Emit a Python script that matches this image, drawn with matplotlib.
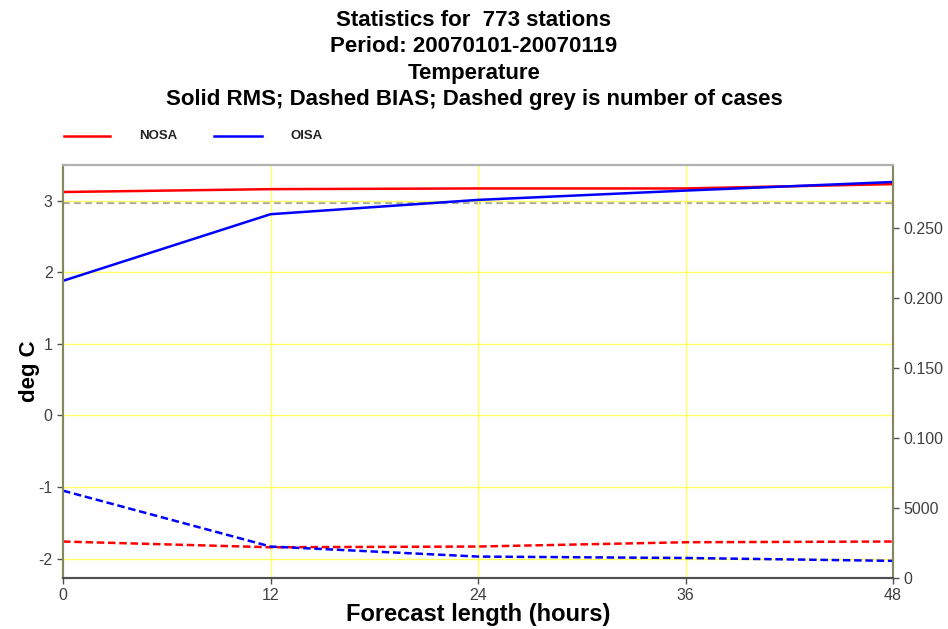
import numpy as np
import matplotlib.pyplot as plt

plt.rcParams['font.family'] = ['Liberation Sans', 'DejaVu Sans']

hours = [0, 12, 24, 36, 48]
nosa_rms = [3.12, 3.16, 3.17, 3.17, 3.23]
oisa_rms = [1.88, 2.81, 3.01, 3.14, 3.26]
nosa_bias = [-1.76, -1.84, -1.83, -1.77, -1.76]
oisa_bias = [-1.05, -1.83, -1.97, -1.99, -2.03]
ncases = [26800, 26800, 26800, 26800, 26800]

yticks = [-2, -1, 0, 1, 2, 3]
rticks = [0, 5000, 10000, 15000, 20000, 25000]
rlabels = ['0', '5000', '0.100', '0.150', '0.200', '0.250']

title_lines = ['Statistics for  773 stations',
               'Period: 20070101-20070119',
               'Temperature',
               'Solid RMS; Dashed BIAS; Dashed grey is number of cases']

fig = plt.figure(figsize=(9.48, 6.29), dpi=100)
ax = fig.add_axes([0.0665, 0.081, 0.8755, 0.657])
ax2 = ax.twinx()

ax2.plot(hours, ncases, color='#a8a8a0', ls=(0, (3, 2)), lw=1.6, zorder=1)

ax.plot(hours, nosa_rms, color='red', lw=1.8)
ax.plot(hours, oisa_rms, color='blue', lw=1.8)
ax.plot(hours, nosa_bias, color='red', lw=1.8, ls=(0, (3, 1.5)))
ax.plot(hours, oisa_bias, color='blue', lw=1.8, ls=(0, (3, 1.5)))

ax.set_xlim(0, 48)
ax.set_ylim(-2.27, 3.5)
ax2.set_ylim(0, 29500)
ax.set_xticks(hours)
ax.set_yticks(yticks)
ax.set_yticklabels([str(v) for v in yticks])
ax2.set_yticks(rticks)
ax2.set_yticklabels(rlabels)

for v in yticks:
    ax.axhline(v, color='#ffff60', lw=1, zorder=0)
for v in hours[1:-1]:
    ax.axvline(v, color='#ffff60', lw=1, zorder=0)

ax.set_zorder(ax2.get_zorder() + 1)
ax.patch.set_visible(False)

for a in (ax, ax2):
    a.spines['left'].set_color('#888860')
    a.spines['right'].set_color('#888860')
    a.spines['top'].set_color('#b0b0b0')
    a.spines['bottom'].set_color('#505050')
    for s in a.spines.values():
        s.set_linewidth(1.5)
    a.tick_params(colors='#505050', labelcolor='#404040', labelsize=11.5, length=4, width=1)

ax.set_xlabel('Forecast length (hours)', fontsize=17, fontweight='bold', labelpad=0)
ax.set_ylabel('deg C', fontsize=16, fontweight='bold', labelpad=-1.5)

for i, line in enumerate(title_lines):
    fig.text(0.5, 1 - [20, 46, 73, 100][i] / 629, line, ha='center', va='center',
             fontsize=16, fontweight='bold')

# legend
fig.lines.append(plt.Line2D([0.067, 0.116], [0.784, 0.784], color='red', lw=1.8,
                            transform=fig.transFigure))
fig.text(0.147, 0.784, 'NOSA', fontsize=9.5, fontweight='bold', va='center', color='#222222')
fig.lines.append(plt.Line2D([0.226, 0.276], [0.784, 0.784], color='blue', lw=1.8,
                            transform=fig.transFigure))
fig.text(0.306, 0.784, 'OISA', fontsize=9.5, fontweight='bold', va='center', color='#222222')

fig.savefig('out.png', dpi=100)
